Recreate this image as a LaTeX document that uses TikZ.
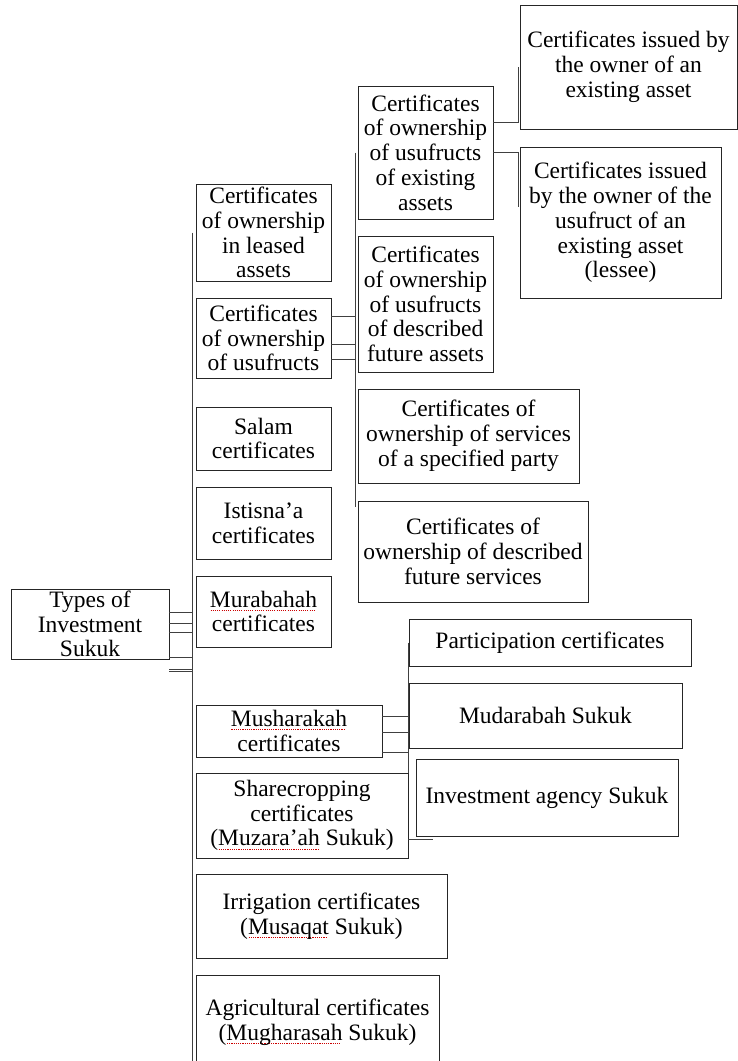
\documentclass[tikz,border=0pt]{standalone}
\usepackage{fontspec}
\setmainfont{Liberation Serif}

% red dotted spell-check mark under a word
\newsavebox\spellbox
\newcommand\spellmark[1]{\sbox\spellbox{#1}%
  \rlap{\raisebox{-3.5pt}{\color{red!80!black}\leaders\hbox to 2.2pt{\hss\rule{1.1pt}{0.7pt}\hss}\hskip\wd\spellbox}}%
  \usebox\spellbox}

\tikzset{
  sbox/.style={draw=black!85, line width=0.9pt, inner sep=0pt, align=center,
    font=\fontsize{23.5}{24.8}\selectfont},
  link/.style={draw=black!75, line width=0.9pt},
}

\begin{document}
\begin{tikzpicture}[x=1pt, y=-1pt]
\useasboundingbox (0,0) rectangle (738,1061);
\clip (0,0) rectangle (738,1061);

% root
\node[sbox, minimum width=158, minimum height=70] (types) at (90,624)
  {Types of\\Investment\\Sukuk};

% first level
\node[sbox, minimum width=135, minimum height=97] (leased) at (263.5,232.5)
  {Certificates\\of ownership\\in leased\\assets};
\node[sbox, minimum width=135, minimum height=80] (usuf) at (263.5,338)
  {Certificates\\of ownership\\of usufructs};
\node[sbox, minimum width=135, minimum height=63] (salam) at (263.5,438.5)
  {Salam\\certificates};
\node[sbox, minimum width=135, minimum height=72] (istisna) at (263.5,523)
  {Istisna’a\\certificates};
\node[sbox, minimum width=135, minimum height=71] (murab) at (263.5,611.5)
  {\spellmark{Murabahah}\\certificates};
\node[sbox, minimum width=186, minimum height=52] (mush) at (289,731)
  {\spellmark{Musharakah}\\certificates};
\node[sbox, minimum width=212, minimum height=85] (share) at (302,815.5)
  {Sharecropping\\certificates\\(\spellmark{Muzara’ah} Sukuk)};
\node[sbox, minimum width=251, minimum height=84] (irrig) at (321.5,916)
  {Irrigation certificates\\(\spellmark{Musaqat} Sukuk)};
\node[sbox, minimum width=243, minimum height=94] (agri) at (317.5,1022)
  {Agricultural certificates\\(\spellmark{Mugharasah} Sukuk)};

% usufruct branch
\node[sbox, minimum width=135, minimum height=133] (exist) at (425.5,152.5)
  {Certificates\\of ownership\\of usufructs\\of existing\\assets};
\node[sbox, minimum width=135, minimum height=136] (futass) at (425.5,304)
  {Certificates\\of ownership\\of usufructs\\of described\\future assets};
\node[sbox, minimum width=221, minimum height=94] (party) at (468.5,436)
  {Certificates of\\ownership of services\\of a specified party};
\node[sbox, minimum width=230, minimum height=101] (futserv) at (473,551.5)
  {Certificates of\\ownership of described\\future services};

% existing usufruct branch
\node[sbox, minimum width=217, minimum height=124] (owner) at (628.5,67)
  {Certificates issued by\\the owner of an\\existing asset};
\node[sbox, minimum width=201, minimum height=151] (lessee) at (620.5,222.5)
  {Certificates issued\\by the owner of the\\usufruct of an\\existing asset\\(lessee)};

% musharakah branch
\node[sbox, minimum width=282, minimum height=47] (partic) at (550,642.5)
  {Participation certificates};
\node[sbox, minimum width=273, minimum height=65] (mudar) at (545.5,715.5)
  {Mudarabah Sukuk};
\node[sbox, minimum width=262, minimum height=77] (agency) at (547,797.5)
  {Investment agency Sukuk};

% main trunk
\coordinate (trunktop) at ([xshift=-3pt]leased.west);
\draw[link] (trunktop) -- (trunktop |- 0,1070);
\foreach \y in {612,623,632,657,669,671}
  \draw[link] (types.east |- 0,\y) -- (trunktop |- 0,\y);

% usufruct trunk
\coordinate (midtop) at ([xshift=-2pt]exist.west);
\draw[link] (midtop) -- (midtop |- 0,507);
\foreach \y in {316,344,359}
  \draw[link] (usuf.east |- 0,\y) -- (midtop |- 0,\y);

% existing usufruct links
\draw[link] (exist.east |- 0,122) -| ([xshift=-1pt]owner.west);
\draw[link] (exist.east |- 0,152) -| ([xshift=-1pt]lessee.west |- 0,207);

% musharakah links
\draw[link] (share.east |- partic.west) -- (share.north east);
\foreach \y in {716,732,752}
  \draw[link] (mush.east |- 0,\y) -- (share.east |- 0,\y);
\draw[link] (share.east |- 0,839) -- ++(25,0);
\end{tikzpicture}
\end{document}
